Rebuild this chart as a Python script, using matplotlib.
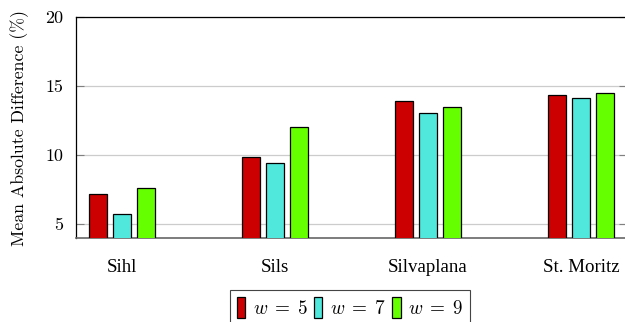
import matplotlib
matplotlib.use("Agg")
import matplotlib.pyplot as plt
import numpy as np

categories = ["Sihl", "Sils", "Silvaplana", "St. Moritz"]
series_labels = [r"$w\;=\;5$", r"$w\;=\;7$", r"$w\;=\;9$"]
w5 = [7.2, 9.85, 13.93, 14.36]
w7 = [5.73, 9.43, 13.03, 14.12]
w9 = [7.6, 12.04, 13.47, 14.48]
yticks = [5, 10, 15, 20]

colors = ["#CC0000", "#50E8DD", "#66FF00"]

plt.rcParams["font.family"] = ["cmr10", "DejaVu Serif"]
plt.rcParams["mathtext.fontset"] = "cm"
plt.rcParams["axes.formatter.use_mathtext"] = True

fig = plt.figure(figsize=(6.25, 3.22), dpi=100)
ax = fig.add_axes([76/625, 1-238/322, (627-76)/625, (238-17)/322])

x = np.arange(len(categories))
width = 0.122
step = 0.157
for i, (vals, c, lab) in enumerate(zip([w5, w7, w9], colors, series_labels)):
    ax.bar(x + (i-1)*step, vals, width, color=c, edgecolor="black", linewidth=0.9,
           label=lab, zorder=3)

ax.set_xlim(-0.3, 3.3)
ax.set_ylim(4, 20)
ax.set_yticks(yticks)
ax.set_yticklabels([str(t) for t in yticks], fontsize=13)
ax.set_xticks(x)
ax.set_xticklabels(categories, fontsize=13.6, family="Liberation Serif")
ax.tick_params(axis="x", length=0, pad=15)
ax.tick_params(axis="y", direction="in", length=6, color="#808080", width=0.8, pad=9, right=True)
ax.yaxis.grid(True, color="#cccccc", linewidth=0.9, zorder=0)
ax.set_axisbelow(True)
for s in ["left", "top", "right"]:
    ax.spines[s].set_color("black")
    ax.spines[s].set_linewidth(0.9)
ax.spines["bottom"].set_color("#666666")
ax.spines["bottom"].set_linewidth(1.2)
ax.set_ylabel("Mean Absolute Difference (%)", fontsize=12.8, labelpad=12)

leg = fig.legend(loc="upper center", bbox_to_anchor=(350/625, 1-290/322), ncol=3,
                 fontsize=13.8, handlelength=0.45, handleheight=1.35, handletextpad=0.4,
                 columnspacing=0.3, borderpad=0.35, fancybox=False, framealpha=1,
                 edgecolor="#444444", borderaxespad=0)
leg.get_frame().set_linewidth(0.8)

fig.savefig("out.png", dpi=100)
